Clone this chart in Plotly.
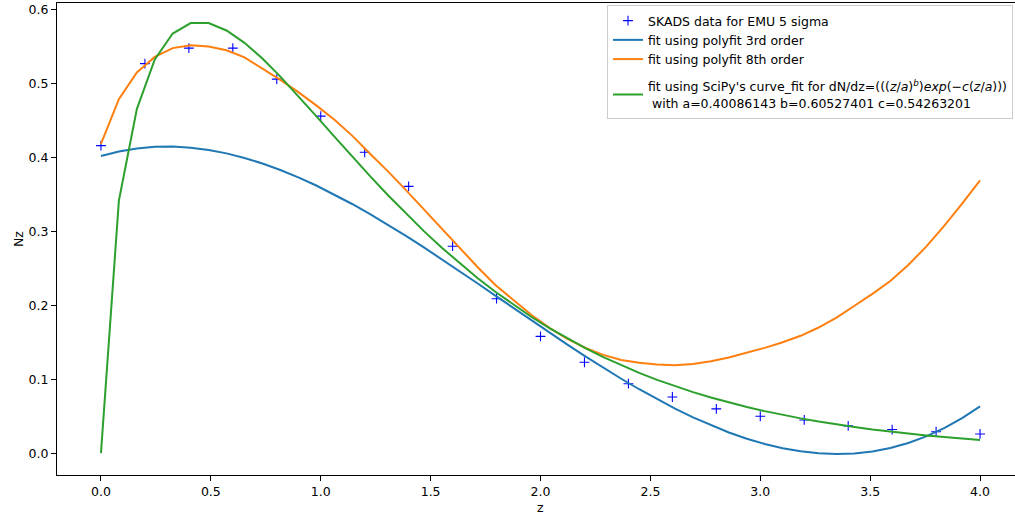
import plotly.graph_objects as go

# SKADS data points
z_data = [0.0, 0.2, 0.4, 0.6, 0.8, 1.0, 1.2, 1.4, 1.6, 1.8, 2.0,
          2.2, 2.4, 2.6, 2.8, 3.0, 3.2, 3.4, 3.6, 3.8, 4.0]
nz_data = [0.416, 0.527, 0.548, 0.548, 0.506, 0.456, 0.407, 0.361, 0.280, 0.209, 0.158,
           0.123, 0.094, 0.076, 0.060, 0.050, 0.045, 0.037, 0.032, 0.029, 0.026]

# sample grid of the fitted curves (50 samples from 0 to 4)
z_fit = [0.0, 0.0816, 0.1633, 0.2449, 0.3265, 0.4082, 0.4898, 0.5714, 0.6531, 0.7347,
         0.8163, 0.8980, 0.9796, 1.0612, 1.1429, 1.2245, 1.3061, 1.3878, 1.4694, 1.5510,
         1.6327, 1.7143, 1.7959, 1.8776, 1.9592, 2.0408, 2.1224, 2.2041, 2.2857, 2.3673,
         2.4490, 2.5306, 2.6122, 2.6939, 2.7755, 2.8571, 2.9388, 3.0204, 3.1020, 3.1837,
         3.2653, 3.3469, 3.4286, 3.5102, 3.5918, 3.6735, 3.7551, 3.8367, 3.9184, 4.0]

fit3 = [0.4020, 0.4082, 0.4123, 0.4144, 0.4148, 0.4133, 0.4102, 0.4056, 0.3994, 0.3919,
        0.3831, 0.3732, 0.3621, 0.3501, 0.3371, 0.3234, 0.3090, 0.2939, 0.2784, 0.2624,
        0.2461, 0.2296, 0.2129, 0.1962, 0.1796, 0.1631, 0.1469, 0.1310, 0.1156, 0.1007,
        0.0865, 0.0729, 0.0602, 0.0484, 0.0377, 0.0280, 0.0196, 0.0125, 0.0067, 0.0025,
        -0.0002, -0.0011, -0.0003, 0.0024, 0.0071, 0.0138, 0.0227, 0.0339, 0.0474, 0.0634]

fit8 = [0.4185, 0.4790, 0.5150, 0.5360, 0.5480, 0.5520, 0.5500, 0.5450, 0.5354, 0.5205,
        0.5049, 0.4884, 0.4705, 0.4513, 0.4296, 0.4050, 0.3812, 0.3558, 0.3298, 0.3029,
        0.2765, 0.2516, 0.2272, 0.2065, 0.1870, 0.1695, 0.1545, 0.1425, 0.1330, 0.1262,
        0.1222, 0.1199, 0.1190, 0.1207, 0.1245, 0.1295, 0.1355, 0.1425, 0.1500, 0.1588,
        0.1700, 0.1835, 0.1995, 0.2155, 0.2330, 0.2545, 0.2795, 0.3075, 0.3375, 0.3690]

fit_cf = [0.0, 0.3417, 0.4655, 0.5327, 0.5677, 0.5818, 0.5818, 0.5718, 0.5551, 0.5338,
          0.5094, 0.4832, 0.4560, 0.4286, 0.4014, 0.3747, 0.3489, 0.3240, 0.3004, 0.2779,
          0.2567, 0.2367, 0.2180, 0.2005, 0.1842, 0.1691, 0.1550, 0.1420, 0.1300, 0.1189,
          0.1086, 0.0992, 0.0906, 0.0826, 0.0753, 0.0686, 0.0625, 0.0569, 0.0518, 0.0471,
          0.0428, 0.0389, 0.0354, 0.0321, 0.0292, 0.0265, 0.0240, 0.0218, 0.0198, 0.0179]

x_ticks = [0.0, 0.5, 1.0, 1.5, 2.0, 2.5, 3.0, 3.5, 4.0]
x_tick_text = ["0.0", "0.5", "1.0", "1.5", "2.0", "2.5", "3.0", "3.5", "4.0"]
y_ticks = [0.0, 0.1, 0.2, 0.3, 0.4, 0.5, 0.6]
y_tick_text = ["0.0", "0.1", "0.2", "0.3", "0.4", "0.5", "0.6"]

names = [
    "SKADS data for EMU 5 sigma",
    "fit using polyfit 3rd order",
    "fit using polyfit 8th order",
    "fit using SciPy's curve_fit for dN/dz=(((<i>z</i>/<i>a</i>)<sup><i>b</i></sup>)<i>exp</i>(−<i>c</i>(<i>z</i>/<i>a</i>)))"
    "<br> with a=0.40086143 b=0.60527401 c=0.54263201",
]

FONT = "DejaVu Sans"
FS = 12.5

# plot area in pixels
L, R, T, B = 57, 1015, 3, 475
PW, PH = R - L, B - T

fig = go.Figure()
fig.add_trace(go.Scatter(x=z_data, y=nz_data, mode="markers", name=names[0],
                         legendgroup="a",
                         marker=dict(symbol="cross-thin", size=7, color="#0000ff",
                                     line=dict(color="#0000ff", width=1.1))))
fig.add_trace(go.Scatter(x=z_fit, y=fit3, mode="lines", name=names[1], legendgroup="a",
                         line=dict(color="#1f77b4", width=2)))
fig.add_trace(go.Scatter(x=z_fit, y=fit8, mode="lines", name=names[2], legendgroup="a",
                         line=dict(color="#ff7f0e", width=2)))
fig.add_trace(go.Scatter(x=z_fit, y=fit_cf, mode="lines", name=names[3], legendgroup="b",
                         line=dict(color="#2ca02c", width=2)))

fig.update_layout(
    width=1015, height=519,
    margin=dict(l=L, r=1015 - R, t=T, b=519 - B, autoexpand=False),
    paper_bgcolor="white", plot_bgcolor="white",
    font=dict(family=FONT, size=FS, color="#000000"),
    showlegend=True,
    legend=dict(x=(607 - L) / PW, y=1 - (5 - T) / PH, xanchor="left", yanchor="top",
                bgcolor="rgba(255,255,255,0.8)", bordercolor="#cccccc", borderwidth=1,
                font=dict(family=FONT, size=FS, color="#000000"),
                traceorder="grouped", tracegroupgap=8, itemwidth=30,
                groupclick="toggleitem"),
    xaxis=dict(range=[-0.2, 4.159], tickvals=x_ticks, ticktext=x_tick_text,
               showgrid=False, zeroline=False, showline=True, linecolor="black",
               linewidth=1, mirror=True, ticks="outside", ticklen=5, tickwidth=1,
               tickcolor="black", tickfont=dict(size=FS), automargin=False),
    yaxis=dict(range=[-0.0295, 0.609], tickvals=y_ticks, ticktext=y_tick_text,
               showgrid=False, zeroline=False, showline=True, linecolor="black",
               linewidth=1, ticks="outside", ticklen=5, tickwidth=1,
               tickcolor="black", tickfont=dict(size=FS), automargin=False),
    annotations=[
        dict(text="z", x=2.0, xref="x", y=-(508 - B) / PH, yref="paper",
             xanchor="center", yanchor="middle", showarrow=False, font=dict(size=FS)),
        dict(text="Nz", x=(18 - L) / PW, xref="paper", y=1 - (239 - T) / PH, yref="paper",
             xanchor="center", yanchor="middle", showarrow=False, textangle=-90,
             font=dict(size=FS)),
    ],
)

fig.write_html("out.html", config={"displayModeBar": False},
               post_script="document.body.style.margin='0';document.body.style.overflow='hidden';")
